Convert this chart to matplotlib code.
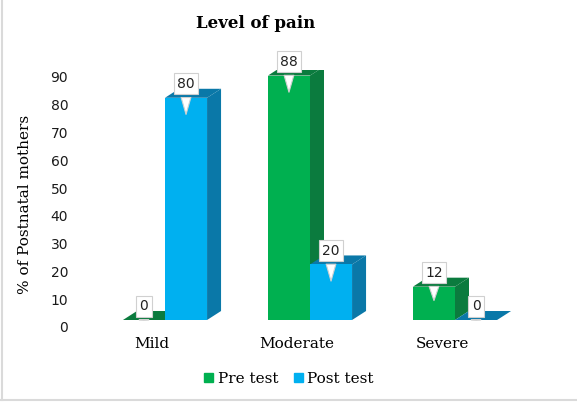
import matplotlib.pyplot as plt
import matplotlib.transforms as mtransforms
from matplotlib.patches import Polygon, Patch
from matplotlib.lines import Line2D
import numpy as np

# data
categories = ['Mild', 'Moderate', 'Severe']
pre_test = [0, 88, 12]
post_test = [80, 20, 0]

green = '#00B050'
green_dark = '#0B7B3E'
blue = '#00B0F0'
blue_dark = '#0A78A8'

fig = plt.figure(figsize=(5.77, 4.04), dpi=100)
fig.patch.set_color('white')
W, H = 577.0, 404.0
ax = fig.add_axes([92.5 / W, 84 / H, 435 / W, 250 / H])

x = np.arange(len(categories))
bw = 0.29
# depth of the fake 3D effect (pixels -> data units)
dx = 14 / 145.0
dy = 9 / 2.78


def bars_3d(xpos, vals, c_front, c_dark, z):
    bars = ax.bar(xpos, vals, bw, color=c_front, zorder=z + 1, linewidth=0)
    for b in bars:
        x0, w, h = b.get_x(), b.get_width(), b.get_height()
        side = [(x0 + w, 0), (x0 + w + dx, dy), (x0 + w + dx, h + dy), (x0 + w, h)]
        top = [(x0, h), (x0 + dx, h + dy), (x0 + w + dx, h + dy), (x0 + w, h)]
        ax.add_patch(Polygon(side, closed=True, fc=c_dark, ec='none', zorder=z))
        ax.add_patch(Polygon(top, closed=True, fc=c_dark, ec='none', zorder=z))
    return bars


b1 = bars_3d(x - bw / 2, pre_test, green, green_dark, 2)
b2 = bars_3d(x + bw / 2, post_test, blue, blue_dark, 4)

# callout style data labels
for bars in (b1, b2):
    for b in bars:
        h = b.get_height()
        cx = b.get_x() + b.get_width() / 2
        tip = h - min(7, h * 0.5)
        ax.annotate('%d' % h, xy=(cx, tip), xytext=(cx, h + 5),
                    ha='center', va='center', fontsize=10, family='DejaVu Sans',
                    color='#222222', zorder=10, annotation_clip=False,
                    bbox=dict(boxstyle='square,pad=0.25', fc='white', ec='#d0d0d0', lw=0.8),
                    arrowprops=dict(arrowstyle='wedge,tail_width=0.7,shrink_factor=0.5',
                                    fc='white', ec='#d0d0d0', lw=0.8))

ax.set_xlim(-0.5, 2.5)
ax.set_ylim(0, 90)
ax.set_yticks(np.arange(0, 91, 10))
ax.set_xticks(x)
ax.set_xticklabels(categories, family='DejaVu Serif', fontsize=11)
ax.tick_params(axis='y', length=0, pad=17.5, labelsize=10, labelcolor='#1a1a1a')
ax.tick_params(axis='x', length=0, pad=12)
for lab in ax.get_yticklabels():
    lab.set_transform(lab.get_transform() + mtransforms.ScaledTranslation(0, -7 / 100., fig.dpi_scale_trans))
for lab in ax.get_xticklabels():
    lab.set_transform(lab.get_transform() + mtransforms.ScaledTranslation(-13 / 100., 0, fig.dpi_scale_trans))
for s in ax.spines.values():
    s.set_visible(False)
ax.patch.set_alpha(0)

fig.text(25 / W, 1 - 204 / H, '% of Postnatal mothers', rotation=90, ha='center', va='center',
         family='DejaVu Serif', fontsize=11)
fig.text(256 / W, 1 - 24 / H, 'Level of pain', ha='center', va='center',
         family='DejaVu Serif', fontweight='bold', fontsize=12)

handles = [Patch(color=green, label='Pre test'), Patch(color=blue, label='Post test')]
fig.legend(handles=handles, loc='center', bbox_to_anchor=(289 / W, 1 - 379 / H), ncol=2,
           frameon=False, handlelength=0.6, handleheight=0.6, handletextpad=0.3,
           columnspacing=1.0, prop={'family': 'DejaVu Serif', 'size': 11})

# light sheet border
fig.add_artist(Line2D([1.5 / W, 1.5 / W], [4 / H, 1], color='#dadada', lw=1.5))
fig.add_artist(Line2D([0, 1], [4 / H, 4 / H], color='#dadada', lw=1.5))

plt.savefig('out.png', dpi=100)
